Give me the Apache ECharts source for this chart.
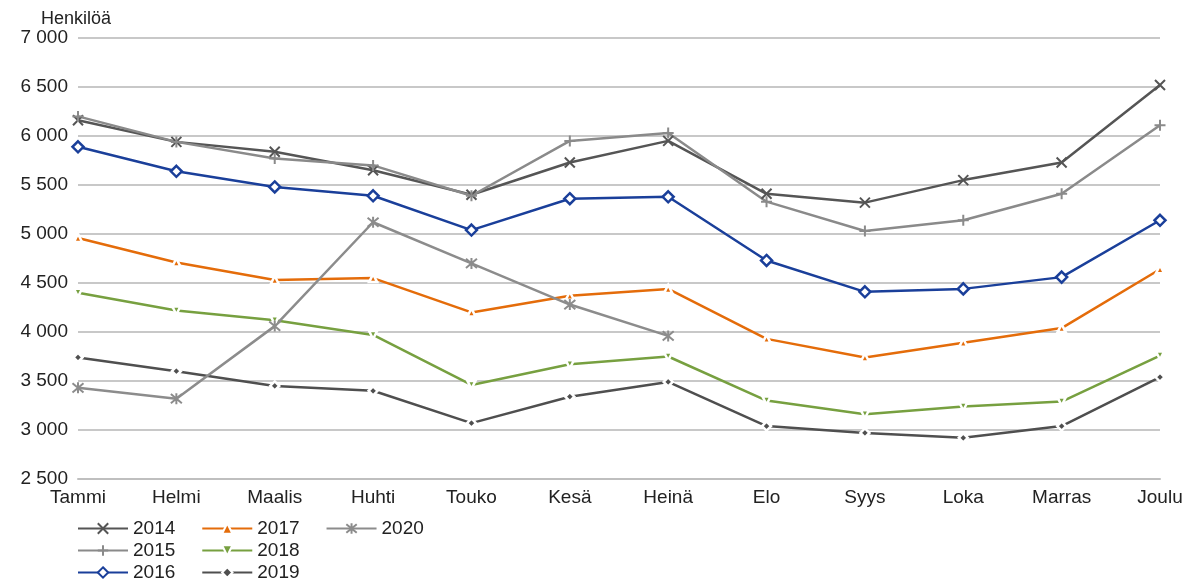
<!DOCTYPE html>
<html>
<head>
<meta charset="utf-8">
<script src="https://cdn.jsdelivr.net/npm/echarts@6/dist/echarts.min.js"></script>
<style>html,body{margin:0;padding:0;background:#fff}#c{width:1190px;height:580px}</style>
</head>
<body>
<div id="c"></div>
<script>
const categories = ['Tammi','Helmi','Maalis','Huhti','Touko','Kesä','Heinä','Elo','Syys','Loka','Marras','Joulu'];
const s2014 = [6160,5940,5840,5650,5400,5730,5950,5410,5320,5550,5730,6520];
const s2015 = [6200,5940,5770,5700,5390,5950,6030,5330,5030,5140,5410,6110];
const s2016 = [5890,5640,5480,5390,5040,5360,5380,4730,4410,4440,4560,5140];
const s2017 = [4960,4710,4530,4550,4200,4370,4440,3930,3740,3890,4040,4640];
const s2018 = [4400,4220,4120,3970,3460,3670,3750,3300,3160,3240,3290,3760];
const s2019 = [3740,3600,3450,3400,3070,3340,3490,3040,2970,2920,3040,3540];
const s2020 = [3430,3320,4060,5120,4700,4280,3960];
const yTicks = {min:2500, max:7000, interval:500};

const F = 'Liberation Sans, Arial, sans-serif';
const X = 'path://M0,0L10,10M10,0L0,10';
const PLUS = 'path://M5,0L5,10M0,5L10,5';
const STAR = 'path://M0,0L10,10M10,0L0,10M5,-1L5,11';
const INVTRI = 'path://M0,0L10,0L5,9Z';

function strokeSeries(name, data, color, symbol, size) {
  return {
    name, type:'line', data, symbol, symbolSize:size, showAllSymbol:true,
    lineStyle:{color, width:2.5},
    itemStyle:{color, borderColor:color, borderWidth:2},
    emphasis:{disabled:true}
  };
}
function gapSeries(name, data, color, symbol, size) {
  return {
    name, type:'line', data, symbol, symbolSize:size, showAllSymbol:true,
    lineStyle:{color, width:2.5},
    itemStyle:{color, borderColor:'#ffffff', borderWidth:2.5},
    emphasis:{disabled:true}
  };
}

const chart = echarts.init(document.getElementById('c'), null, {renderer:'canvas'});
const legendCommon = {
  left:77, padding:0, itemWidth:50, itemHeight:13, itemGap:26,
  textStyle:{fontFamily:F, fontSize:19, color:'#222'},
  selectedMode:false
};
chart.setOption({
  animation:false,
  backgroundColor:'#fff',
  textStyle:{fontFamily:F},
  grid:{left:78, right:30, top:38, bottom:101, containLabel:false},
  title:{text:'Henkilöä', left:36, top:5, textStyle:{fontFamily:F, fontSize:18, fontWeight:'normal', color:'#222'}},
  legend:[
    Object.assign({}, legendCommon, {top:519, data:['2014','2017','2020']}),
    Object.assign({}, legendCommon, {top:541, data:['2015','2018']}),
    Object.assign({}, legendCommon, {top:563, data:['2016','2019']})
  ],
  xAxis:{
    type:'category', data:categories, boundaryGap:false,
    axisLine:{show:true, lineStyle:{color:'#bfbfbf', width:2}},
    axisTick:{show:false},
    axisLabel:{fontFamily:F, fontSize:19, color:'#222', margin:9, interval:0}
  },
  yAxis:{
    type:'value', min:yTicks.min, max:yTicks.max, interval:yTicks.interval,
    axisLine:{show:false}, axisTick:{show:false},
    splitLine:{lineStyle:{color:'#c8c8c8', width:2}},
    axisLabel:{fontFamily:F, fontSize:19, color:'#222', margin:10,
      formatter:v => String(v).replace(/\B(?=(\d{3})+(?!\d))/g,' ')}
  },
  series:[
    strokeSeries('2014', s2014, '#555555', X, 10),
    strokeSeries('2015', s2015, '#8a8a8a', PLUS, 11),
    {
      name:'2016', type:'line', data:s2016, symbol:'diamond', symbolSize:11, showAllSymbol:true,
      lineStyle:{color:'#1a3f9a', width:2.5},
      itemStyle:{color:'#ffffff', borderColor:'#1a3f9a', borderWidth:2.5},
      emphasis:{disabled:true}
    },
    gapSeries('2017', s2017, '#e46c0a', 'triangle', 8),
    gapSeries('2018', s2018, '#77a040', INVTRI, 8),
    gapSeries('2019', s2019, '#4f4f4f', 'diamond', 9),
    strokeSeries('2020', s2020, '#8c8c8c', STAR, 11)
  ]
});
</script>
</body>
</html>
